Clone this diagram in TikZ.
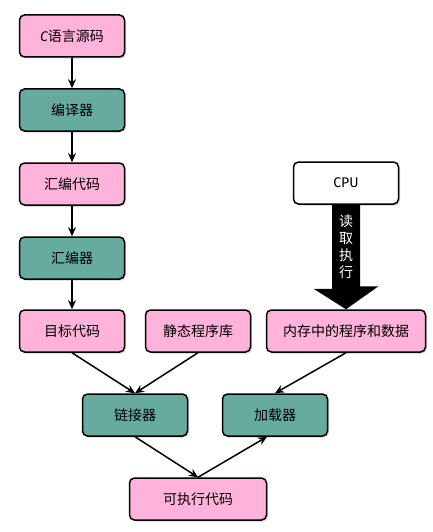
\documentclass[tikz,border=0pt]{standalone}
\usepackage{fontspec}
\setmainfont{Noto Sans CJK SC}
\newfontfamily\latinfont{Fira Sans}
\usepackage{tikz}
\usetikzlibrary{positioning, arrows.meta, shadows}

\definecolor{boxpink}{HTML}{FFB3DA}
\definecolor{boxgreen}{HTML}{67AB9F}

\begin{document}
\begin{tikzpicture}[x=1pt, y=-1pt,
  box/.style={draw=black, line width=1.5pt, rounded corners=5pt,
    minimum width=105pt, minimum height=42pt, inner sep=2pt,
    font=\fontsize{14}{17}\selectfont,
    drop shadow={shadow xshift=1.5pt, shadow yshift=-1.5pt, opacity=0.35}},
  data/.style={box, fill=boxpink},
  tool/.style={box, fill=boxgreen},
  flow/.style={line width=1.5pt, -{Stealth[length=9pt, width=8pt]}}]

\useasboundingbox (0,0) rectangle (433,532);

% Draw compile chain
\node[data] (src) at (72,36) {{\latinfont\itshape C}语言源码};
\node[tool] (cc) at (72,110) {编译器};
\node[data] (asm) at (72,184) {汇编代码};
\node[tool] (as) at (72,258) {汇编器};
\node[data] (obj) at (72,331) {目标代码};
\node[data] (lib) at (198,331) {静态程序库};
\node[data, minimum width=159pt] (mem) at (346,331) {内存中的程序和数据};
\node[box, fill=white] (cpu) at (346,183) {\latinfont CPU};

% Draw link and load
\node[tool] (lnk) at (135,415) {链接器};
\node[tool] (ldr) at (275,415) {加载器};
\node[data, minimum width=137pt] (exe) at (198,499) {可执行代码};

% Draw arrows
\foreach \a/\b in {src/cc, cc/asm, asm/as, as/obj}
  \draw[flow] (\a.south) -- (\b.north);
\draw[flow] (obj.south) -- (lnk.north);
\draw[flow] (lib.south) -- (lnk.north);
\draw[flow] (mem.south) -- (ldr.north);
\draw[flow] (lnk.south) -- (exe.north);
\draw[flow] (exe.north) -- ([xshift=-8pt]ldr.south);

% Draw fetch arrow
\fill[black] ([xshift=-14pt]cpu.south) -- ++(0,84) -- ++(-18.5,0) -- (mem.north)
  -- ++(32.5,-23) -- ++(-18.5,0) -- ([xshift=14pt]cpu.south) -- cycle;
\node[text=white, align=center, font=\fontsize{14}{17}\selectfont] (fetch) at (346,247) {读\\取\\执\\行};

\end{tikzpicture}
\end{document}
